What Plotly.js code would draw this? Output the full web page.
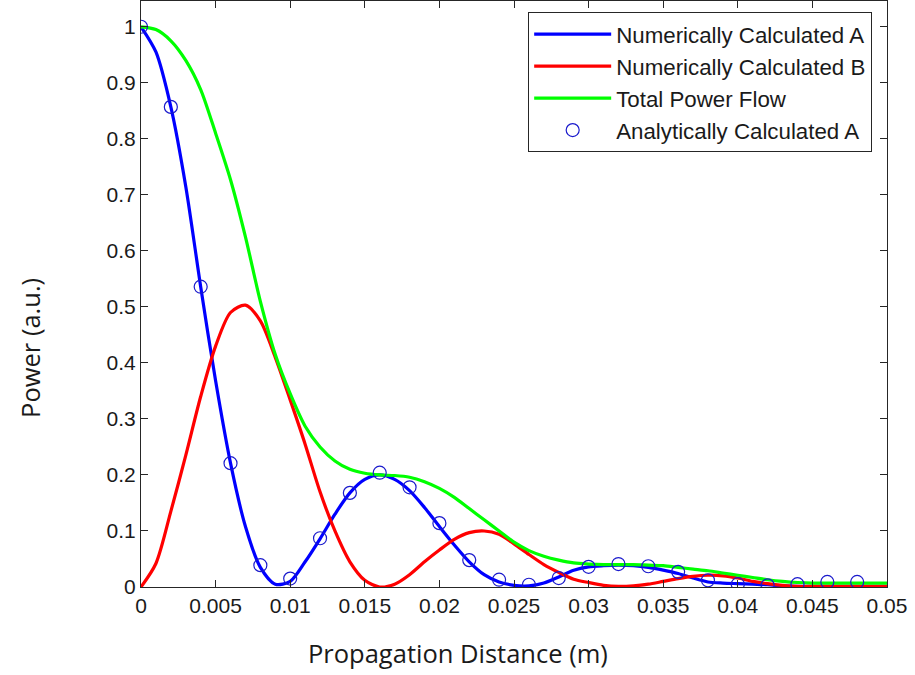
<!DOCTYPE html>
<html>
<head>
<meta charset="utf-8">
<script src="https://cdn.plot.ly/plotly-3.0.1.min.js"></script>
<style>
  html, body { margin: 0; padding: 0; background: #fff; }
  #plot { width: 915px; height: 675px; }
</style>
</head>
<body>
<div id="plot"></div>
<script>
// Propagation distance samples (m), every 1 mm
const distance = [
  0.000, 0.001, 0.002, 0.003, 0.004, 0.005, 0.006, 0.007, 0.008, 0.009,
  0.010, 0.011, 0.012, 0.013, 0.014, 0.015, 0.016, 0.017, 0.018, 0.019,
  0.020, 0.021, 0.022, 0.023, 0.024, 0.025, 0.026, 0.027, 0.028, 0.029,
  0.030, 0.031, 0.032, 0.033, 0.034, 0.035, 0.036, 0.037, 0.038, 0.039,
  0.040, 0.041, 0.042, 0.043, 0.044, 0.045, 0.046, 0.047, 0.048, 0.049,
  0.050
];

// Numerically calculated power in mode A
const powerA = [
  1.000, 0.955, 0.857, 0.715, 0.536, 0.368, 0.221, 0.108, 0.035, 0.005,
  0.010, 0.045, 0.086, 0.130, 0.168, 0.192, 0.200, 0.192, 0.172, 0.142,
  0.108, 0.075, 0.045, 0.022, 0.009, 0.003, 0.002, 0.007, 0.018, 0.030,
  0.036, 0.038, 0.039, 0.038, 0.035, 0.030, 0.024, 0.016, 0.009, 0.007,
  0.006, 0.005, 0.004, 0.002, 0.001, 0.001, 0.001, 0.001, 0.001, 0.001,
  0.001
];

// Numerically calculated power in mode B
const powerB = [
  0.000, 0.042, 0.135, 0.235, 0.340, 0.430, 0.490, 0.503, 0.475, 0.410,
  0.334, 0.255, 0.170, 0.100, 0.045, 0.012, 0.000, 0.005, 0.022, 0.045,
  0.066, 0.085, 0.097, 0.100, 0.094, 0.077, 0.058, 0.040, 0.026, 0.014,
  0.008, 0.003, 0.001, 0.002, 0.005, 0.010, 0.015, 0.019, 0.021, 0.020,
  0.016, 0.010, 0.006, 0.003, 0.001, 0.001, 0.001, 0.001, 0.001, 0.001,
  0.001
];

// Total power flow
const powerTotal = [
  1.000, 0.995, 0.975, 0.940, 0.888, 0.810, 0.727, 0.625, 0.510, 0.415,
  0.345, 0.287, 0.250, 0.225, 0.210, 0.203, 0.200, 0.199, 0.196, 0.188,
  0.176, 0.160, 0.140, 0.120, 0.100, 0.080, 0.065, 0.055, 0.048, 0.043,
  0.041, 0.040, 0.040, 0.040, 0.039, 0.038, 0.035, 0.032, 0.029, 0.025,
  0.021, 0.017, 0.013, 0.010, 0.008, 0.007, 0.007, 0.007, 0.007, 0.007,
  0.007
];

// Analytical solution for mode A, every 2 mm
const analyticDistance = [
  0.000, 0.002, 0.004, 0.006, 0.008, 0.010, 0.012, 0.014, 0.016, 0.018,
  0.020, 0.022, 0.024, 0.026, 0.028, 0.030, 0.032, 0.034, 0.036, 0.038,
  0.040, 0.042, 0.044, 0.046, 0.048
];
const analyticA = [
  1.000, 0.857, 0.536, 0.221, 0.039, 0.015, 0.087, 0.168, 0.204, 0.178,
  0.114, 0.048, 0.013, 0.004, 0.016, 0.036, 0.041, 0.037, 0.027, 0.012,
  0.005, 0.003, 0.005, 0.009, 0.009
];

// Axis ticks
const xTickVals = [0, 0.005, 0.01, 0.015, 0.02, 0.025, 0.03, 0.035, 0.04, 0.045, 0.05];
const xTickText = ['0', '0.005', '0.01', '0.015', '0.02', '0.025', '0.03', '0.035', '0.04', '0.045', '0.05'];
const yTickVals = [0, 0.1, 0.2, 0.3, 0.4, 0.5, 0.6, 0.7, 0.8, 0.9, 1];
const yTickText = ['0', '0.1', '0.2', '0.3', '0.4', '0.5', '0.6', '0.7', '0.8', '0.9', '1'];

const seriesNames = [
  'Numerically Calculated A',
  'Numerically Calculated B',
  'Total Power Flow',
  'Analytically Calculated A'
];
const xTitle = 'Propagation Distance (m)';
const yTitle = 'Power (a.u.)';

const traces = [
  {
    x: distance, y: powerA, name: seriesNames[0],
    mode: 'lines', line: { color: '#0000ff', width: 3.2, shape: 'spline', smoothing: 0.8 }
  },
  {
    x: distance, y: powerB, name: seriesNames[1],
    mode: 'lines', line: { color: '#ff0000', width: 3.2, shape: 'spline', smoothing: 0.8 }
  },
  {
    x: distance, y: powerTotal, name: seriesNames[2],
    mode: 'lines', line: { color: '#00ff00', width: 3.2, shape: 'spline', smoothing: 0.8 }
  },
  {
    x: analyticDistance, y: analyticA, name: seriesNames[3],
    mode: 'markers',
    marker: { symbol: 'circle-open', size: 13, color: '#1a1acc', line: { width: 1.2, color: '#1a1acc' } }
  }
];

const tickFont = { family: 'Liberation Sans, Arial, sans-serif', size: 21, color: '#1a1a1a' };
const titleFont = { family: 'Open Sans, sans-serif', size: 25.5, color: '#1a1a1a' };

const layout = {
  width: 915,
  height: 675,
  paper_bgcolor: '#ffffff',
  plot_bgcolor: '#ffffff',
  margin: { l: 141, r: 28, t: 1, b: 88 },
  showlegend: true,
  legend: {
    x: 0.519, y: 0.981, xanchor: 'left', yanchor: 'top',
    bgcolor: '#ffffff', bordercolor: '#262626', borderwidth: 1,
    font: { family: 'Liberation Sans, Arial, sans-serif', size: 22.3, color: '#1a1a1a' },
    itemwidth: 77
  },
  xaxis: {
    range: [0, 0.05],
    tickvals: xTickVals, ticktext: xTickText,
    ticks: 'inside', ticklen: 7, tickcolor: '#262626', tickwidth: 1,
    showline: true, linecolor: '#262626', linewidth: 1, mirror: 'ticks',
    showgrid: false, zeroline: false,
    tickfont: tickFont
  },
  yaxis: {
    range: [0, 1.046],
    tickvals: yTickVals, ticktext: yTickText,
    ticks: 'inside', ticklen: 7, tickcolor: '#262626', tickwidth: 1,
    showline: true, linecolor: '#262626', linewidth: 1, mirror: 'ticks',
    showgrid: false, zeroline: false,
    tickfont: tickFont
  },
  // Axis labels, placed as free text below and left of the axes
  annotations: [
    {
      text: xTitle, font: titleFont, showarrow: false,
      xref: 'paper', yref: 'paper', x: 0.425, y: -0.1126,
      xanchor: 'center', yanchor: 'middle'
    },
    {
      text: yTitle, font: titleFont, showarrow: false, textangle: -90,
      xref: 'paper', yref: 'paper', x: -0.1488, y: 0.408,
      xanchor: 'center', yanchor: 'middle'
    }
  ]
};

Plotly.newPlot('plot', traces, layout, { staticPlot: true, displayModeBar: false });
</script>
</body>
</html>
